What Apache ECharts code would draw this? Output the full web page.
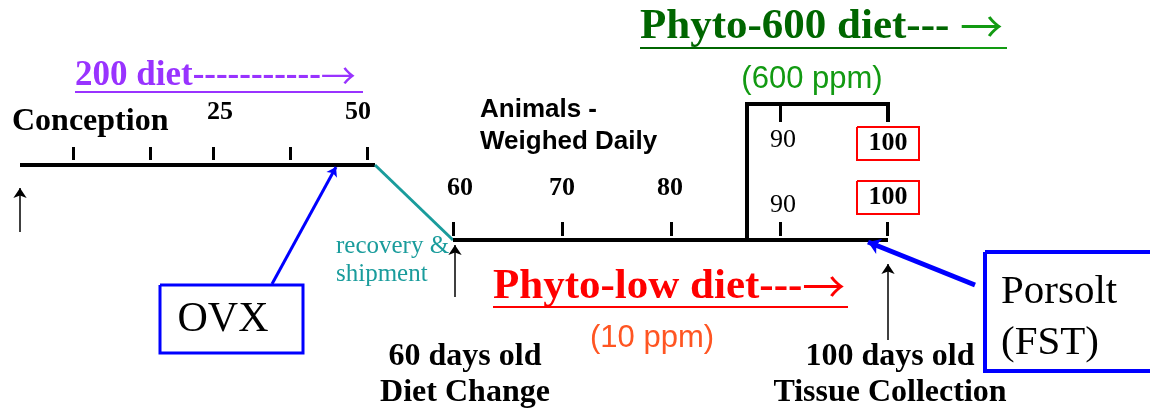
<!DOCTYPE html>
<html>
<head>
<meta charset="utf-8">
<script src="https://cdn.jsdelivr.net/npm/echarts@6/dist/echarts.min.js"></script>
<style>
  html, body { margin: 0; padding: 0; background: #fff; }
  #chart { width: 1150px; height: 410px; }
</style>
</head>
<body>
<div id="chart"></div>
<script>
// diagram space: x 0..1150, y 0..410 (top-down)
const early = [[20, 165], [375, 165]]
const transfer = [[375, 165], [453, 240]]
const late = [[453, 240], [888, 240]]
const bracket = [[747, 240], [747, 104], [888, 104], [888, 122]]

// tick marks [x, yTop, yBottom]
const earlyTicks = [[73, 147, 160], [150, 147, 160], [213, 147, 160], [290, 147, 160], [367, 147, 160]]
const lateTicks = [[453, 222, 236], [562, 222, 236], [671, 222, 236], [780, 222, 236], [887, 222, 236], [780, 104, 122]]

// tick labels [x, y, text]
const earlyLabels = [[220, 112, '25'], [358, 112, '50']]
const lateLabels = [[460, 188, '60'], [562, 188, '70'], [670, 188, '80']]
const ninetyLabels = [[783, 140, '90'], [783, 205, '90']]
const hundredLabels = [[888, 143, '100'], [888, 197, '100']]
const hundredBoxes = [[857, 127, 919, 160], [857, 181, 919, 214]]

const upArrows = [[[20, 232], [20, 188]], [[455, 297], [455, 245]], [[888, 340], [888, 264]]]

let chart = echarts.init(document.getElementById('chart'))

function seg (coords, color, width, arrow) {
  return {
    type: 'lines',
    coordinateSystem: 'cartesian2d',
    polyline: coords.length > 2,
    symbol: arrow ? ['none', 'arrow'] : 'none',
    symbolSize: arrow || 0,
    lineStyle: { color: color, width: width, opacity: 1, curveness: 0 },
    data: [{ coords: coords }],
    z: 2
  }
}

function box (b, color, width) {
  return seg([[b[0], b[1]], [b[2], b[1]], [b[2], b[3]], [b[0], b[3]], [b[0], b[1]]], color, width)
}

function text (x, y, str, font, align, rich) {
  return {
    value: [x, y],
    label: {
      show: true,
      position: 'inside',
      align: align || 'center',
      verticalAlign: 'middle',
      formatter: str,
      color: font.color,
      opacity: 1,
      fontFamily: font.family,
      fontSize: font.size,
      fontWeight: font.weight || 'normal',
      lineHeight: font.lh || font.size,
      rich: rich || {}
    }
  }
}

const serif = 'Liberation Serif'
const sans = 'Liberation Sans'

function arrowRich (color, size, arrowColor) {
  return {
    t: { fontFamily: serif, fontWeight: 'bold', fontSize: size, color: color },
    a: { fontFamily: 'Noto Sans CJK SC', fontWeight: 'normal', fontSize: size, color: arrowColor || color }
  }
}

let series = []
series.push(seg(early, '#000', 4))
series.push(seg(transfer, '#1a9c9c', 3))
series.push(seg(late, '#000', 4))
series.push(seg(bracket, '#000', 4))
earlyTicks.concat(lateTicks).forEach(function (t) {
  series.push(seg([[t[0], t[1]], [t[0], t[2]]], '#000', 3))
})
hundredBoxes.forEach(function (b) { series.push(box(b, '#ff0000', 2)) })
upArrows.forEach(function (a) { series.push(seg(a, '#000', 1.5, 10)) })

// callout boxes and pointers
series.push(box([160, 285, 303, 353], '#0000ff', 3))
series.push(box([985, 252, 1160, 371], '#0000ff', 4))
series.push(seg([[272, 284], [336, 167]], '#0000ff', 3, 9))
series.push(seg([[975, 285], [868, 242]], '#0000ff', 5, 12))

// underlines
series.push(seg([[75, 92], [363, 92]], '#9933ff', 2))
series.push(seg([[640, 48], [960, 48]], '#006600', 2))
series.push(seg([[960, 48], [1007, 48]], '#129a12', 2))
series.push(seg([[493, 307], [848, 307]], '#ff0000', 2))

let labels = []
const tickFont = { family: serif, size: 26, weight: 'bold', color: '#000' }
earlyLabels.concat(lateLabels).concat(hundredLabels).forEach(function (l) {
  labels.push(text(l[0], l[1], l[2], tickFont))
})
ninetyLabels.forEach(function (l) {
  labels.push(text(l[0], l[1], l[2], { family: serif, size: 26, color: '#000' }))
})
labels.push(text(12, 122, 'Conception', { family: serif, size: 32, weight: 'bold', color: '#000' }, 'left'))
labels.push(text(75, 76, '{t|200 diet-----------}{a|\u2192}', { family: serif, size: 35, weight: 'bold', color: '#9933ff' }, 'left', arrowRich('#9933ff', 35)))
labels.push(text(640, 27, '{t|Phyto-600 diet--- }{a|\u2192}', { family: serif, size: 43, weight: 'bold', color: '#006600' }, 'left', arrowRich('#006600', 43, '#129a12')))
labels.push(text(812, 79, '(600 ppm)', { family: sans, size: 31, color: '#129a12' }))
labels.push(text(480, 126, 'Animals -\nWeighed Daily', { family: sans, size: 26, weight: 'bold', color: '#000', lh: 32 }, 'left'))
labels.push(text(336, 260, 'recovery &\nshipment', { family: serif, size: 25, color: '#1a9c9c', lh: 28 }, 'left'))
labels.push(text(493, 287, '{t|Phyto-low diet---}{a|\u2192}', { family: serif, size: 43, weight: 'bold', color: '#ff0000' }, 'left', arrowRich('#ff0000', 43)))
labels.push(text(652, 338, '(10 ppm)', { family: sans, size: 31, color: '#ff5522' }))
labels.push(text(465, 375, '60 days old\nDiet Change', { family: serif, size: 32, weight: 'bold', color: '#000', lh: 36 }))
labels.push(text(890, 375, '100 days old\nTissue Collection', { family: serif, size: 32, weight: 'bold', color: '#000', lh: 36 }))
labels.push(text(223, 320, 'OVX', { family: serif, size: 42, color: '#000' }))
labels.push(text(1001, 318, 'Porsolt\n(FST)', { family: serif, size: 41, color: '#000', lh: 51 }, 'left'))

series.push({
  type: 'scatter',
  symbolSize: 0,
  itemStyle: { opacity: 1 },
  data: labels,
  z: 5
})

chart.setOption({
  animation: false,
  grid: { left: 0, right: 0, top: 0, bottom: 0 },
  xAxis: { type: 'value', min: 0, max: 1150, show: false },
  yAxis: { type: 'value', min: 0, max: 410, inverse: true, show: false },
  series: series
})
</script>
</body>
</html>
